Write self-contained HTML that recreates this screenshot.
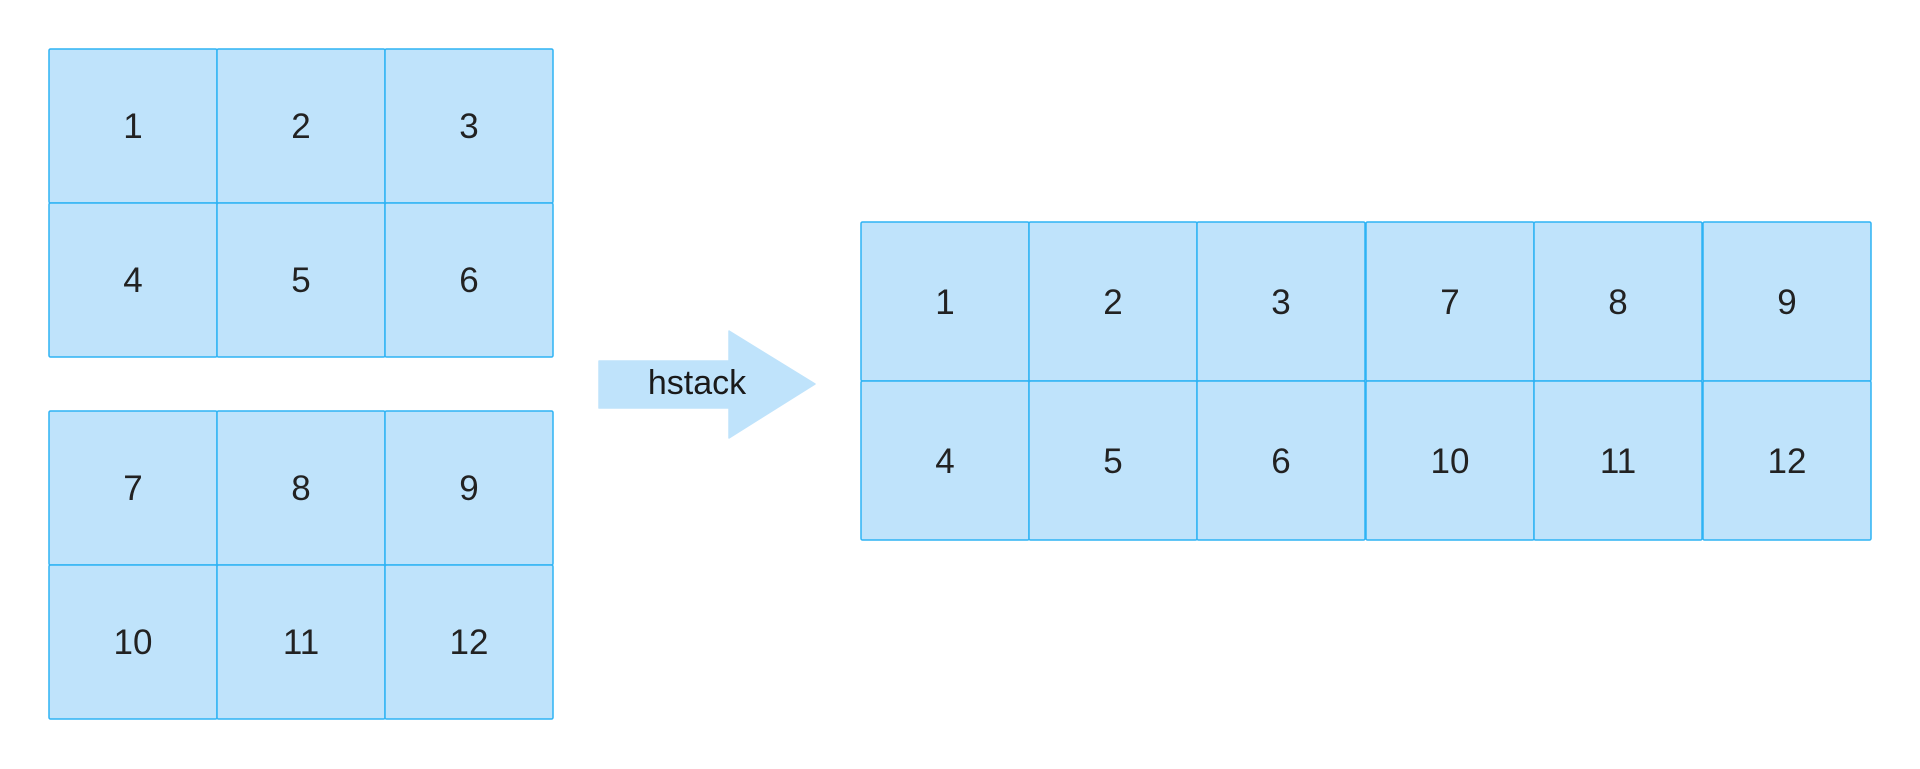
<!DOCTYPE html>
<html><head><meta charset="utf-8"><style>
html,body{margin:0;padding:0;background:#fff;width:1920px;height:769px;overflow:hidden}
</style></head><body>
<svg width="1920" height="769" xmlns="http://www.w3.org/2000/svg" font-family="Liberation Sans, sans-serif">
<g id="cells" fill="#bfe3fb" stroke="#2fb3f4" stroke-width="1.5">
<rect x="49" y="49" width="168" height="154" rx="1.5"/>
<rect x="217" y="49" width="168" height="154" rx="1.5"/>
<rect x="385" y="49" width="168" height="154" rx="1.5"/>
<rect x="49" y="203" width="168" height="154" rx="1.5"/>
<rect x="217" y="203" width="168" height="154" rx="1.5"/>
<rect x="385" y="203" width="168" height="154" rx="1.5"/>
<rect x="49" y="411" width="168" height="154" rx="1.5"/>
<rect x="217" y="411" width="168" height="154" rx="1.5"/>
<rect x="385" y="411" width="168" height="154" rx="1.5"/>
<rect x="49" y="565" width="168" height="154" rx="1.5"/>
<rect x="217" y="565" width="168" height="154" rx="1.5"/>
<rect x="385" y="565" width="168" height="154" rx="1.5"/>
<rect x="861" y="222" width="168" height="159" rx="1.5"/>
<rect x="1029" y="222" width="168" height="159" rx="1.5"/>
<rect x="1197" y="222" width="168" height="159" rx="1.5"/>
<rect x="1366" y="222" width="168" height="159" rx="1.5"/>
<rect x="1534" y="222" width="168" height="159" rx="1.5"/>
<rect x="1703" y="222" width="168" height="159" rx="1.5"/>
<rect x="861" y="381" width="168" height="159" rx="1.5"/>
<rect x="1029" y="381" width="168" height="159" rx="1.5"/>
<rect x="1197" y="381" width="168" height="159" rx="1.5"/>
<rect x="1366" y="381" width="168" height="159" rx="1.5"/>
<rect x="1534" y="381" width="168" height="159" rx="1.5"/>
<rect x="1703" y="381" width="168" height="159" rx="1.5"/>
</g>
<polygon points="599,361 729,361 729,331 815,384 729,438 729,408 599,408" fill="#bfe3fb" stroke="#bfe3fb" stroke-width="1.5" stroke-linejoin="round"/>
<text x="697" y="394" font-size="34" text-anchor="middle" fill="#1a1a1a">hstack</text>
<g font-size="35" fill="#222" text-anchor="middle">
<text x="133" y="138">1</text><text x="301" y="138">2</text><text x="469" y="138">3</text>
<text x="133" y="292">4</text><text x="301" y="292">5</text><text x="469" y="292">6</text>
<text x="133" y="500">7</text><text x="301" y="500">8</text><text x="469" y="500">9</text>
<text x="133" y="654">10</text><text x="301" y="654">11</text><text x="469" y="654">12</text>
<text x="945" y="314">1</text><text x="1113" y="314">2</text><text x="1281" y="314">3</text>
<text x="1450" y="314">7</text><text x="1618" y="314">8</text><text x="1787" y="314">9</text>
<text x="945" y="473">4</text><text x="1113" y="473">5</text><text x="1281" y="473">6</text>
<text x="1450" y="473">10</text><text x="1618" y="473">11</text><text x="1787" y="473">12</text>
</g>
</svg>
</body></html>
